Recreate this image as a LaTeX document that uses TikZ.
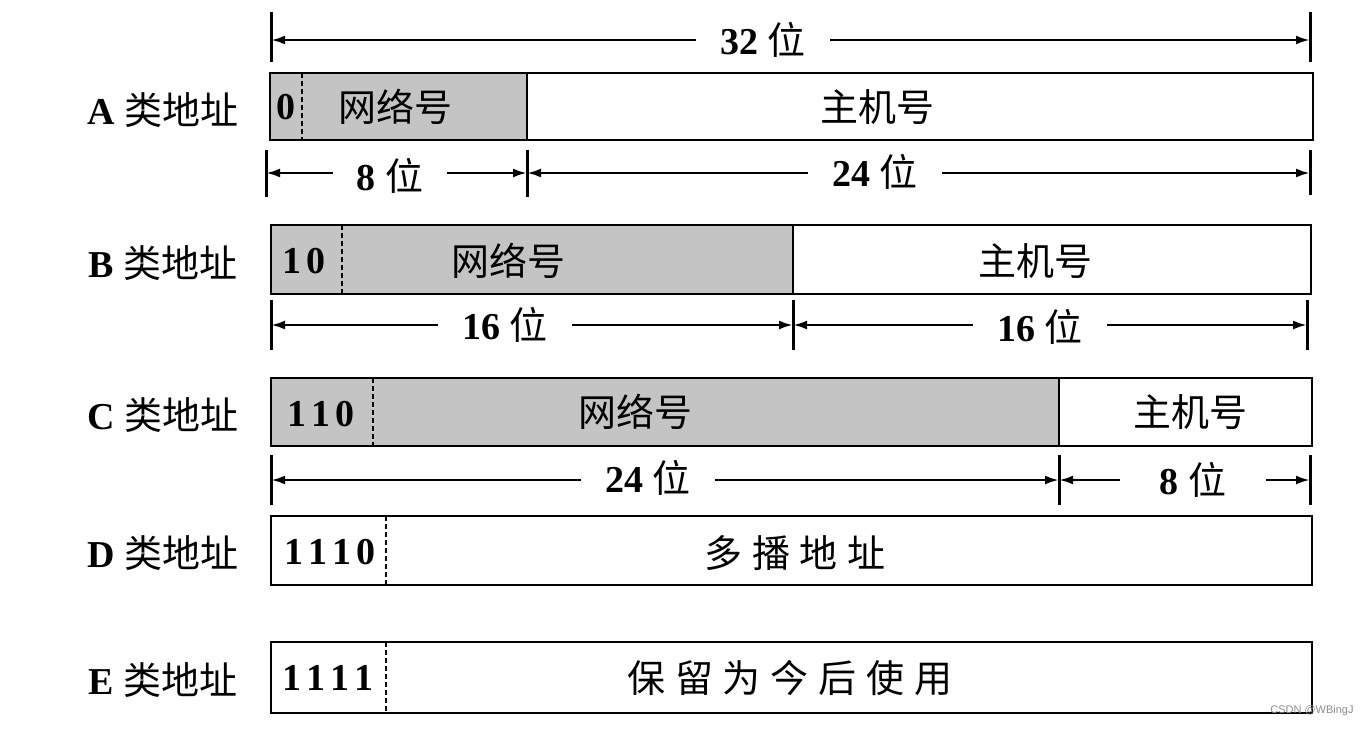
\documentclass[tikz,border=0pt]{standalone}
\usepackage{fontspec}
\setmainfont{Liberation Serif}
\newfontfamily\cjk{Noto Sans CJK SC}
\newfontfamily\wmfont{Liberation Sans}
\newcommand\zhs[1]{{\cjk\mdseries #1}}
\newcommand\dg{\hspace{2.5pt}}
\usetikzlibrary{arrows.meta}
\begin{document}
\begin{tikzpicture}[x=0.5pt,y=-0.5pt,
  box/.style={draw, line width=1.3pt},
  net/.style={fill=black!23},
  sepline/.style={line width=1.1pt, dash pattern=on 2.5pt off 1.5pt},
  tick/.style={line width=1.5pt},
  dim/.style={line width=1.3pt, {Latex[length=7pt,width=4.5pt]}-{Latex[length=7pt,width=4.5pt]}},
  lab/.style={font=\fontsize{19}{19}\selectfont\bfseries, inner sep=0pt},
  txt/.style={font=\fontsize{19}{19}\selectfont\bfseries, inner sep=0pt},
  dimtxt/.style={fill=white, inner xsep=12pt, inner ysep=2pt, font=\fontsize{19}{19}\selectfont\bfseries},
]
\useasboundingbox (0,0) rectangle (1369,730);

% ---------- top 32 bit dimension ----------
\coordinate (t0a) at (271,12); \coordinate (t0b) at (271,62);
\coordinate (t1a) at (1310,12); \coordinate (t1b) at (1310,62);
\draw[tick] (t0a) -- (t0b);
\draw[tick] (t1a) -- (t1b);
\coordinate (d0l) at (271,40); \coordinate (d0r) at (1310,40);
\draw[dim] (d0l) -- (d0r);
\node[dimtxt] (d32) at (763,40) {32 \zhs{位}};

% ---------- A ----------
\node[lab] (labA) at (163,110) {A \zhs{类地址}};
\fill[net] (270,73) rectangle (527,140);
\draw[box] (270,73) rectangle (1313,140);
\draw[box] (527,73) -- (527,140);
\coordinate (sA1) at (302,73); \coordinate (sA2) at (302,140);
\draw[sepline] (sA1) -- (sA2);
\node[txt] (aPre) at (286,107) {0};
\node[txt] (aNet) at (395,107) {\zhs{网络号}};
\node[txt] (aHost) at (877,107) {\zhs{主机号}};

\coordinate (ta0a) at (266,150); \coordinate (ta0b) at (266,197);
\coordinate (ta1a) at (527,150); \coordinate (ta1b) at (527,197);
\coordinate (ta2a) at (1310,150); \coordinate (ta2b) at (1310,195);
\draw[tick] (ta0a) -- (ta0b);
\draw[tick] (ta1a) -- (ta1b);
\draw[tick] (ta2a) -- (ta2b);
\coordinate (da0) at (266,173); \coordinate (da1) at (527,173); \coordinate (da2) at (1310,173);
\draw[dim] (da0) -- (da1);
\draw[dim] (da1) -- (da2);
\node[dimtxt] (a8) at (390,176) {8 \zhs{位}};
\node[dimtxt] (a24) at (875,172) {24 \zhs{位}};

% ---------- B ----------
\node[lab] (labB) at (163,263) {B \zhs{类地址}};
\fill[net] (271,225) rectangle (793,294);
\draw[box] (271,225) rectangle (1311,294);
\draw[box] (793,225) -- (793,294);
\coordinate (sB1) at (342,225); \coordinate (sB2) at (342,294);
\draw[sepline] (sB1) -- (sB2);
\node[txt] (bPre) at (304,261) {1\dg 0};
\node[txt] (bNet) at (508,261) {\zhs{网络号}};
\node[txt] (bHost) at (1035,261) {\zhs{主机号}};

\coordinate (tb0a) at (271,300); \coordinate (tb0b) at (271,350);
\coordinate (tb1a) at (793,300); \coordinate (tb1b) at (793,350);
\coordinate (tb2a) at (1307,300); \coordinate (tb2b) at (1307,350);
\draw[tick] (tb0a) -- (tb0b);
\draw[tick] (tb1a) -- (tb1b);
\draw[tick] (tb2a) -- (tb2b);
\coordinate (db0) at (271,325); \coordinate (db1) at (793,325); \coordinate (db2) at (1307,325);
\draw[dim] (db0) -- (db1);
\draw[dim] (db1) -- (db2);
\node[dimtxt] (b16a) at (505,325) {16 \zhs{位}};
\node[dimtxt] (b16b) at (1040,327) {16 \zhs{位}};

% ---------- C ----------
\node[lab] (labC) at (163,415) {C \zhs{类地址}};
\fill[net] (271,378) rectangle (1059,446);
\draw[box] (271,378) rectangle (1312,446);
\draw[box] (1059,378) -- (1059,446);
\coordinate (sC1) at (373,378); \coordinate (sC2) at (373,446);
\draw[sepline] (sC1) -- (sC2);
\node[txt] (cPre) at (321,414) {1\dg 1\dg 0};
\node[txt] (cNet) at (635,412) {\zhs{网络号}};
\node[txt] (cHost) at (1190,412) {\zhs{主机号}};

\coordinate (tc0a) at (271,455); \coordinate (tc0b) at (271,505);
\coordinate (tc1a) at (1059,455); \coordinate (tc1b) at (1059,505);
\coordinate (tc2a) at (1310,455); \coordinate (tc2b) at (1310,505);
\draw[tick] (tc0a) -- (tc0b);
\draw[tick] (tc1a) -- (tc1b);
\draw[tick] (tc2a) -- (tc2b);
\coordinate (dc0) at (271,480); \coordinate (dc1) at (1059,480); \coordinate (dc2) at (1310,480);
\draw[dim] (dc0) -- (dc1);
\draw[dim] (dc1) -- (dc2);
\node[dimtxt] (c24) at (648,478) {24 \zhs{位}};
\node[dimtxt, inner xsep=20pt] (c8) at (1193,480) {8 \zhs{位}};

% ---------- D ----------
\node[lab] (labD) at (163,553) {D \zhs{类地址}};
\draw[box] (271,516) rectangle (1312,585);
\coordinate (sD1) at (386,516); \coordinate (sD2) at (386,585);
\draw[sepline] (sD1) -- (sD2);
\node[txt] (dPre) at (330,552) {1\dg 1\dg 1\dg 0};
\node[txt] (dTxt) at (795,553) {\zhs{多\hspace{5pt}播\hspace{5pt}地\hspace{5pt}址}};

% ---------- E ----------
\node[lab] (labE) at (163,680) {E \zhs{类地址}};
\draw[box] (271,642) rectangle (1312,713);
\coordinate (sE1) at (386,642); \coordinate (sE2) at (386,713);
\draw[sepline] (sE1) -- (sE2);
\node[txt] (ePre) at (328,678) {1\dg 1\dg 1\dg 1};
\node[txt] (eTxt) at (790,678) {\zhs{保\hspace{5pt}留\hspace{5pt}为\hspace{5pt}今\hspace{5pt}后\hspace{5pt}使\hspace{5pt}用}};

% watermark
\node[anchor=east, font=\wmfont\fontsize{5.5}{5.5}\selectfont, text=black!45, inner sep=0pt] (wm) at (1354,711) {CSDN @WBingJ};
\end{tikzpicture}
\end{document}
